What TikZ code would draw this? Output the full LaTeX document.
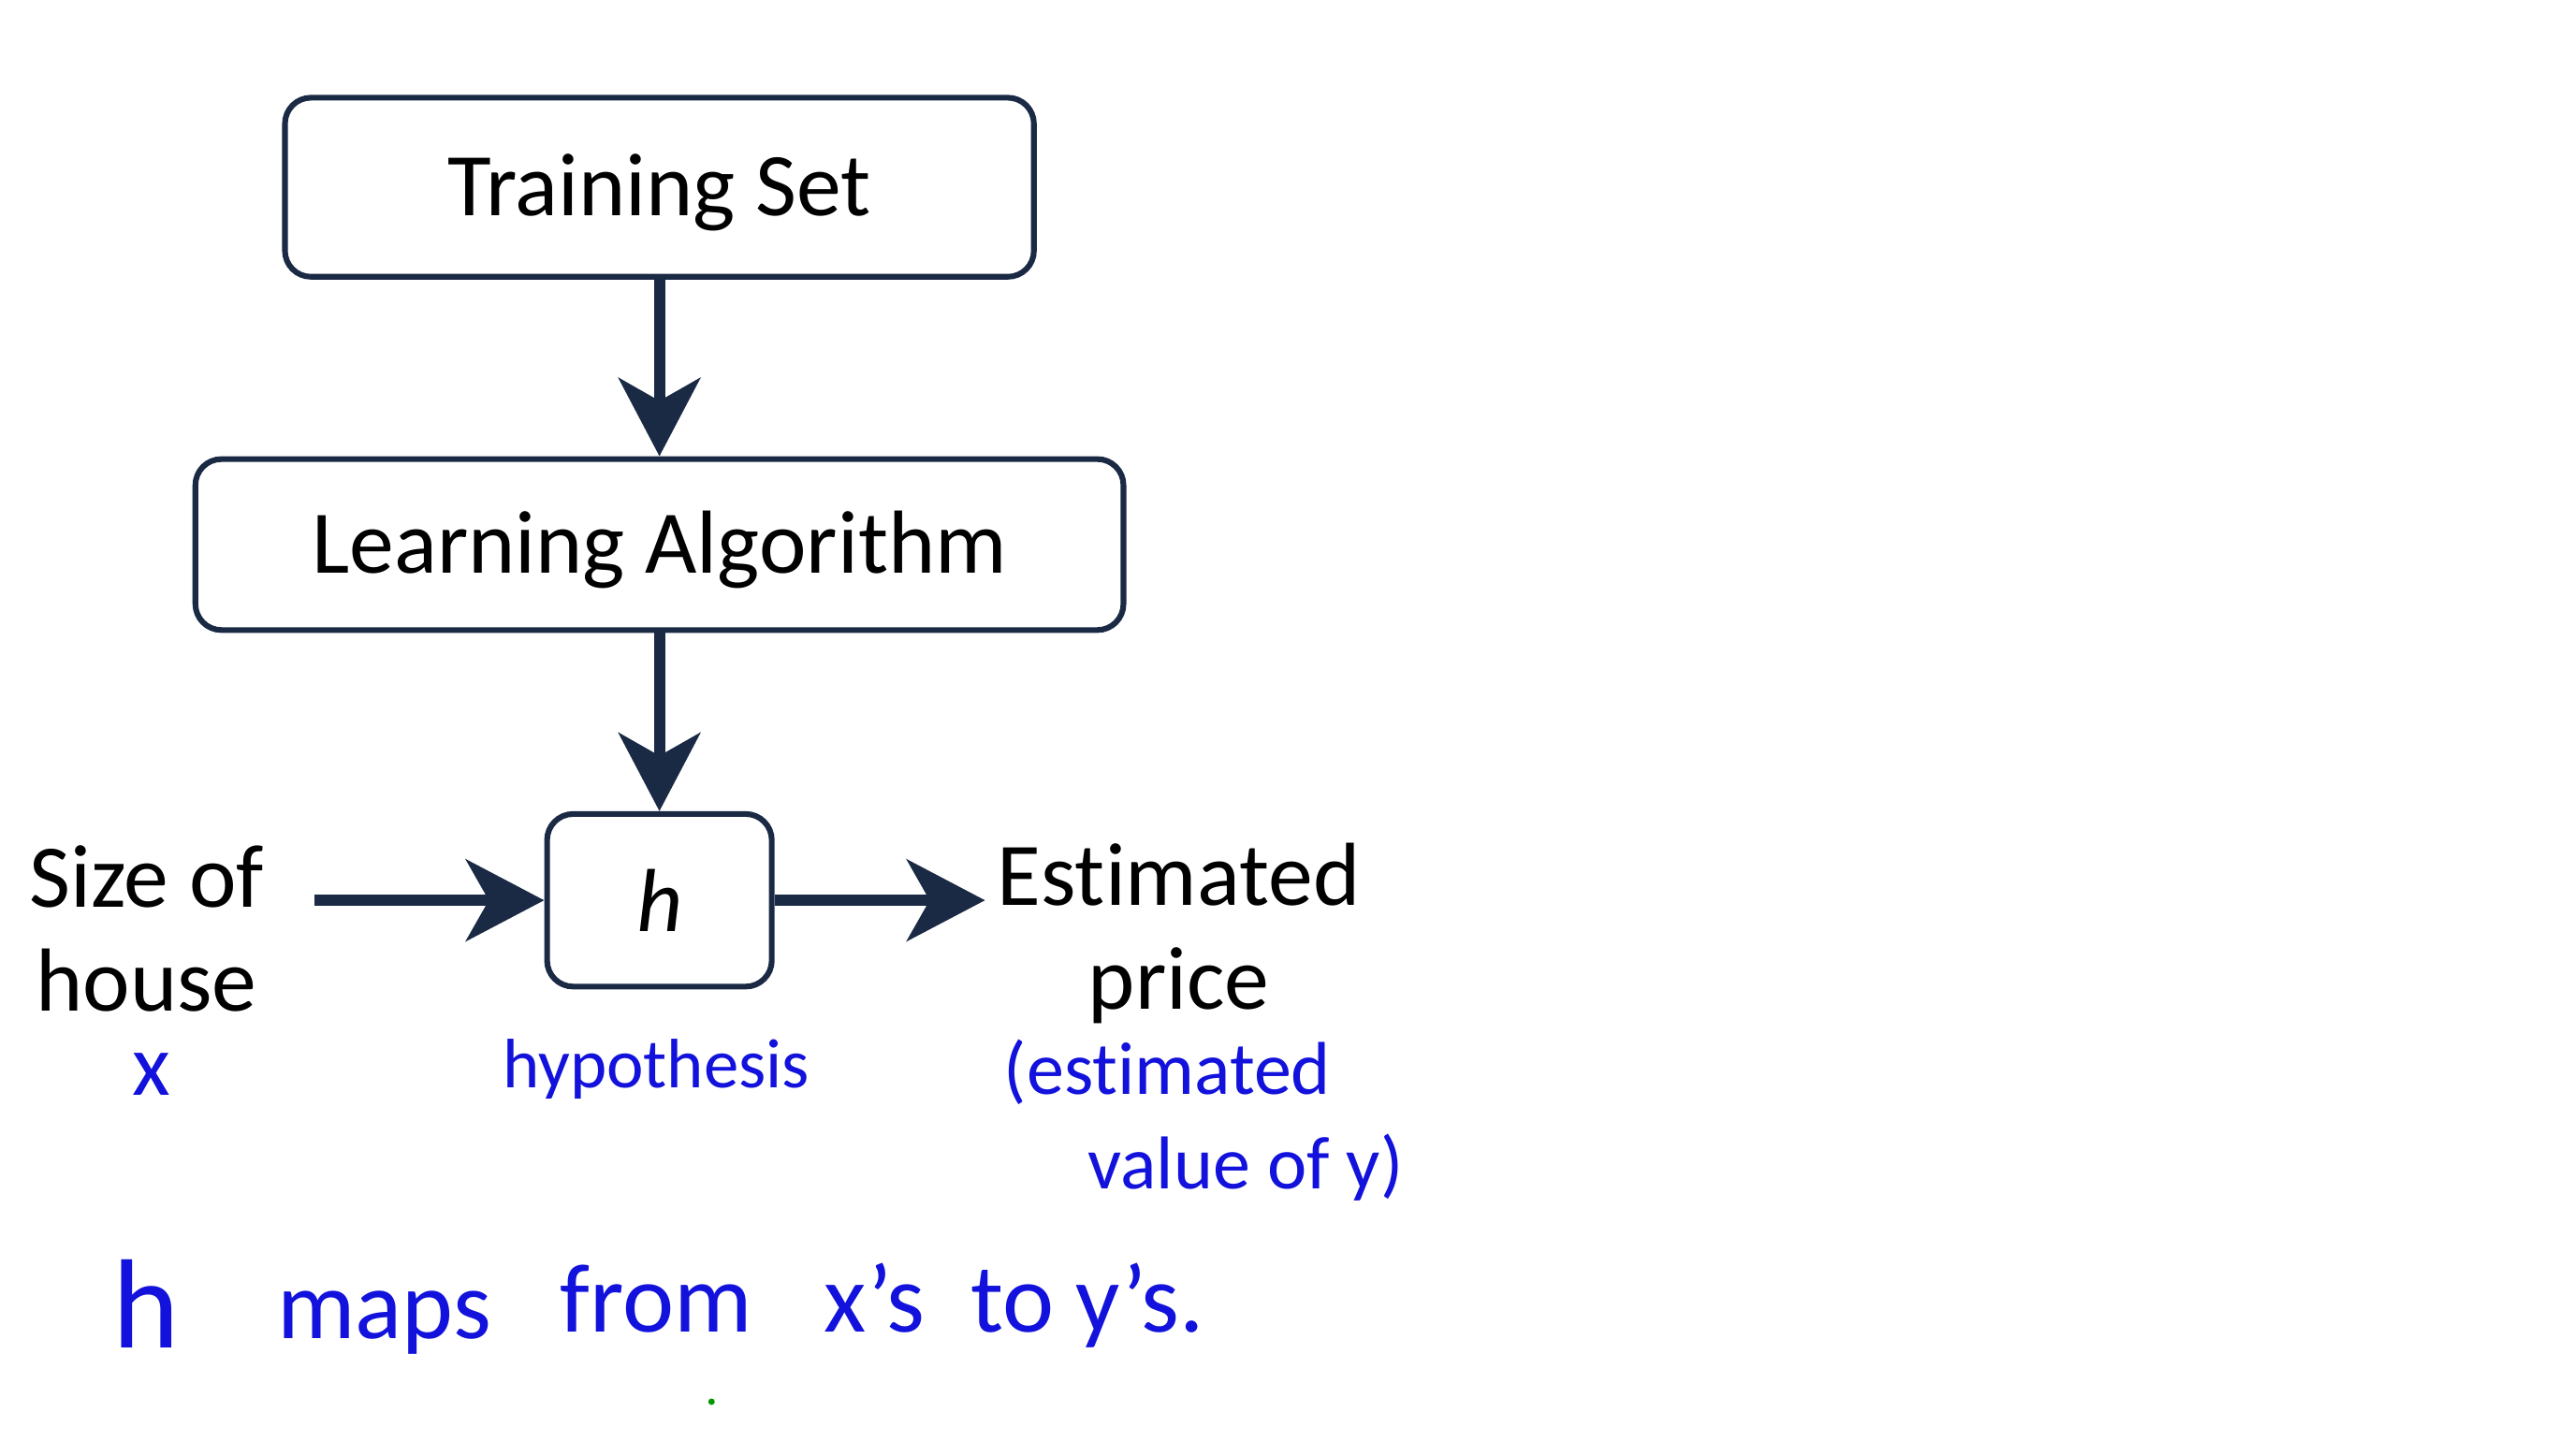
\documentclass[tikz,border=0pt]{standalone}
\usepackage{fontspec}
\setmainfont{Carlito}[Ligatures=NoCommon]
\usetikzlibrary{arrows.meta}
\definecolor{navy}{HTML}{1B2A44}
\definecolor{ink}{HTML}{1212DC}
\begin{document}
\begin{tikzpicture}[x=1pt,y=-1pt,
  blk/.style={draw=navy,line width=3.5pt,rounded corners=16pt,inner sep=0pt,
    font=\fontsize{55}{64}\selectfont,text height=35pt,text depth=0pt},
  flow/.style={draw=navy,line width=7pt,-{Stealth[length=48pt,width=50pt,inset=14pt]}},
  lbl/.style={inner sep=0pt,align=center,font=\fontsize{55}{64}\selectfont},
  hand/.style={inner sep=0pt,text=ink,anchor=base}
]
\useasboundingbox (0,0) rectangle (1568,894);
\fill[white] (0,0) rectangle (1568,894);
\node[blk,minimum width=460pt,minimum height=110pt] (ts) at (405,115) {Training Set};
\node[blk,minimum width=570pt,minimum height=105pt] (la) at (405,334.5) {Learning Algorithm};
\node[blk,minimum width=138pt,minimum height=106pt,text height=38pt] (hb) at (405,553) {\itshape h};
\draw[flow] (ts.south) -- (la.north);
\draw[flow] (la.south) -- (hb.north);
\coordinate (in) at (193,553);
\coordinate (out) at (605,553);
\draw[flow] (in) -- (hb.west);
\draw[flow] (hb.east) -- (out);
\node[lbl,anchor=base] (size) at (90,621) {Size of\\house};
\node[lbl,anchor=base] (est) at (724,620) {Estimated\\price};
\node[hand,font=\fontsize{54}{56}\selectfont] (x) at (93,673) {x};
\node[hand,font=\fontsize{43}{50}\selectfont] (hyp) at (403,668) {hypothesis};
\node[hand,font=\fontsize{46}{50}\selectfont] (est1) at (717,672) {(estimated};
\node[hand,font=\fontsize{46}{50}\selectfont] (est2) at (765,730) {value of y)};
\begin{scope}[every node/.style={hand,font=\fontsize{60}{60}\selectfont}]
\node[font=\fontsize{78}{80}\selectfont] (w1) at (90,828) {h};
\node (w2) at (236,822) {maps};
\node (w3) at (403,818) {from};
\node (w4) at (537,818) {x's};
\node (w5) at (622,818) {to};
\node (w6) at (700,818) {y's.};
\end{scope}
\fill[green!60!black] (437,861) circle (2pt);
\end{tikzpicture}
\end{document}
